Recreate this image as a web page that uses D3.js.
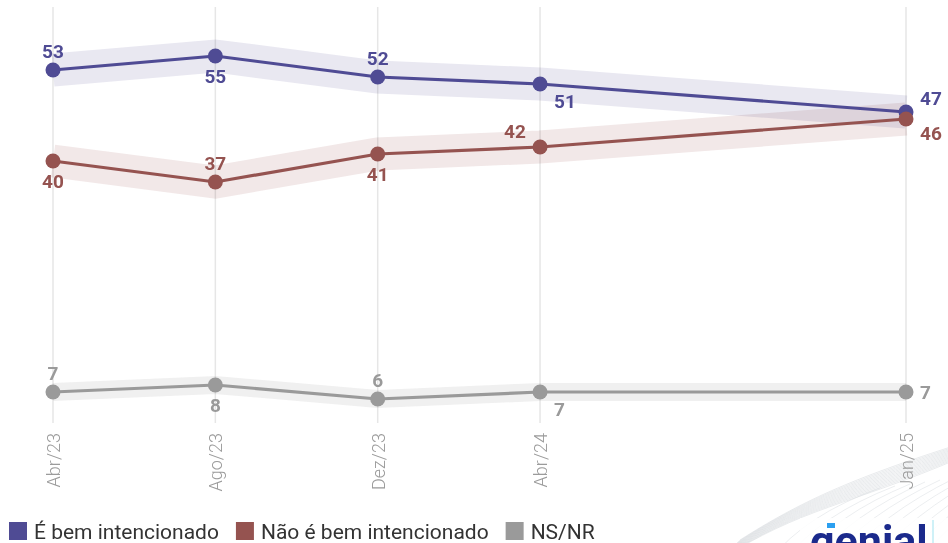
<!DOCTYPE html>
<html>
<head>
<meta charset="utf-8">
<script src="https://cdn.jsdelivr.net/npm/d3@7"></script>
<style>
  html, body { margin: 0; padding: 0; background: #fff; }
  svg { display: block; font-family: Roboto, "Noto Sans", sans-serif; }
</style>
</head>
<body>
<svg id="chart" width="948" height="543"></svg>
<script>
// ---- data ----
const periods = ["Abr/23", "Ago/23", "Dez/23", "Abr/24", "Jan/25"];
const periodDates = [new Date(2023, 3, 1), new Date(2023, 7, 1), new Date(2023, 11, 1), new Date(2024, 3, 1), new Date(2025, 0, 1)];
const seriesNames = ["É bem intencionado", "Não é bem intencionado", "NS/NR"];
const bemIntencionado = [53, 55, 52, 51, 47];
const naoBemIntencionado = [40, 37, 41, 42, 46];
const nsnr = [7, 8, 6, 7, 7];
// label placement for each point: "a" above, "b" below, "br" below-right, "al" above-left, "r" right
const labelPos = [
  ["a", "b", "a", "br", "r"],
  ["b", "a", "b", "al", "r"],
  ["a", "b", "a", "br", "r"]
];

const colors = ["#4f4b94", "#955350", "#9a9a9a"];
const bandColors = ["#e7e6f0", "#f1e6e6", "#efefef"];
const bandWidths = [33, 33, 18];

const svg = d3.select("#chart");
const W = 948, H = 543;

const x = d3.scaleTime().domain([periodDates[0], periodDates[periodDates.length - 1]]).range([53, 906]);
const y = d3.scaleLinear().domain([0, 55]).range([441, 56]);

// ---- logo decoration (background, bottom right) ----
const deco = svg.append("g").attr("class", "deco");
for (let i = 0; i < 14; i++) {
  const t = i / 13;
  const p = d3.path();
  p.moveTo(720 + t * 20, 560 - t * 20);
  p.bezierCurveTo(800, 508 - t * 6, 850, 505 - t * 26, 960, 458 - t * 14);
  deco.append("path").attr("d", p.toString()).attr("fill", "none")
    .attr("stroke", "#d2d6da").attr("stroke-width", 0.5);
}
for (let i = 0; i < 13; i++) {
  const p = d3.path();
  const sx = 770 + i * 15;
  p.moveTo(sx, 560);
  p.quadraticCurveTo(sx + 35, 515, sx + 110, 488 - i * 2);
  deco.append("path").attr("d", p.toString()).attr("fill", "none")
    .attr("stroke", "#d9dce0").attr("stroke-width", 0.5);
}
deco.append("rect").attr("x", 800).attr("y", 518).attr("width", 148).attr("height", 25).attr("fill", "#fff").attr("opacity", 0.85);
deco.append("text").attr("x", 810).attr("y", 556).attr("font-size", 43).attr("font-weight", 700)
  .attr("fill", "#1b2a8c").text("genial");
deco.append("rect").attr("x", 827).attr("y", 523).attr("width", 8).attr("height", 5).attr("fill", "#2b9ff0");
deco.append("line").attr("x1", 933).attr("x2", 933).attr("y1", 520).attr("y2", 543)
  .attr("stroke", "#9fe3f0").attr("stroke-width", 1);

// ---- gridlines ----
svg.append("g").selectAll("line").data(periodDates).join("line")
  .attr("x1", d => x(d)).attr("x2", d => x(d))
  .attr("y1", 7).attr("y2", 423)
  .attr("stroke", "#e6e6e6").attr("stroke-width", 1.5);

// ---- x axis labels ----
const xAxis = d3.axisBottom(x).tickValues(periodDates).tickFormat((d, i) => periods[i]).tickSize(0);
const ax = svg.append("g").attr("transform", "translate(0,433)").call(xAxis);
ax.select(".domain").remove();
ax.selectAll("text")
  .attr("transform", "rotate(-90)")
  .attr("text-anchor", "end")
  .attr("x", 0).attr("y", 0).attr("dy", "0.36em").attr("dx", 0)
  .attr("font-family", "Roboto, sans-serif")
  .attr("font-weight", 300)
  .attr("font-size", 18)
  .attr("fill", "#9b9b9b");

// ---- series ----
const allSeries = [bemIntencionado, naoBemIntencionado, nsnr];
const line = d3.line().x((d, i) => x(periodDates[i])).y(d => y(d));

// bands first
allSeries.forEach((vals, s) => {
  svg.append("path").attr("d", line(vals)).attr("fill", "none")
    .attr("stroke", bandColors[s]).attr("stroke-width", bandWidths[s])
    .attr("stroke-linejoin", "miter").attr("opacity", 0.9)
    .style("mix-blend-mode", "multiply");
});

allSeries.forEach((vals, s) => {
  const g = svg.append("g");
  g.append("path").attr("d", line(vals)).attr("fill", "none")
    .attr("stroke", colors[s]).attr("stroke-width", 3.2);
  g.selectAll("circle").data(vals).join("circle")
    .attr("cx", (d, i) => x(periodDates[i])).attr("cy", d => y(d))
    .attr("r", 7.5).attr("fill", colors[s]);
});

// labels
allSeries.forEach((vals, s) => {
  svg.append("g").selectAll("text").data(vals).join("text")
    .attr("x", (d, i) => {
      const p = labelPos[s][i], cx = x(periodDates[i]);
      if (p === "r") return cx + 14;
      if (p === "br") return cx + 14;
      if (p === "al") return cx - 36;
      return cx;
    })
    .attr("y", (d, i) => {
      const p = labelPos[s][i], cy = y(d);
      if (p === "a") return cy - 12;
      if (p === "b") return cy + 27;
      if (p === "br") return cy + 24;
      if (p === "al") return cy - 9;
      if (p === "r") return s === 0 ? cy - 7 : (s === 1 ? cy + 21 : cy + 7);
      return cy;
    })
    .attr("text-anchor", (d, i) => {
      const p = labelPos[s][i];
      return (p === "r" || p === "br" || p === "al") ? "start" : "middle";
    })
    .attr("font-size", 19).attr("font-weight", 700)
    .attr("fill", colors[s])
    .text(d => d);
});

// ---- legend ----
const legend = svg.append("g").attr("transform", "translate(9,522)");
let lx = 0;
seriesNames.forEach((name, s) => {
  legend.append("rect").attr("x", lx).attr("y", 0).attr("width", 18).attr("height", 18).attr("fill", colors[s]);
  const t = legend.append("text").attr("x", lx + 25).attr("y", 17)
    .attr("font-size", 21).attr("fill", "#333").text(name);
  lx += 25 + t.node().getComputedTextLength() + 17;
});
</script>
</body>
</html>
